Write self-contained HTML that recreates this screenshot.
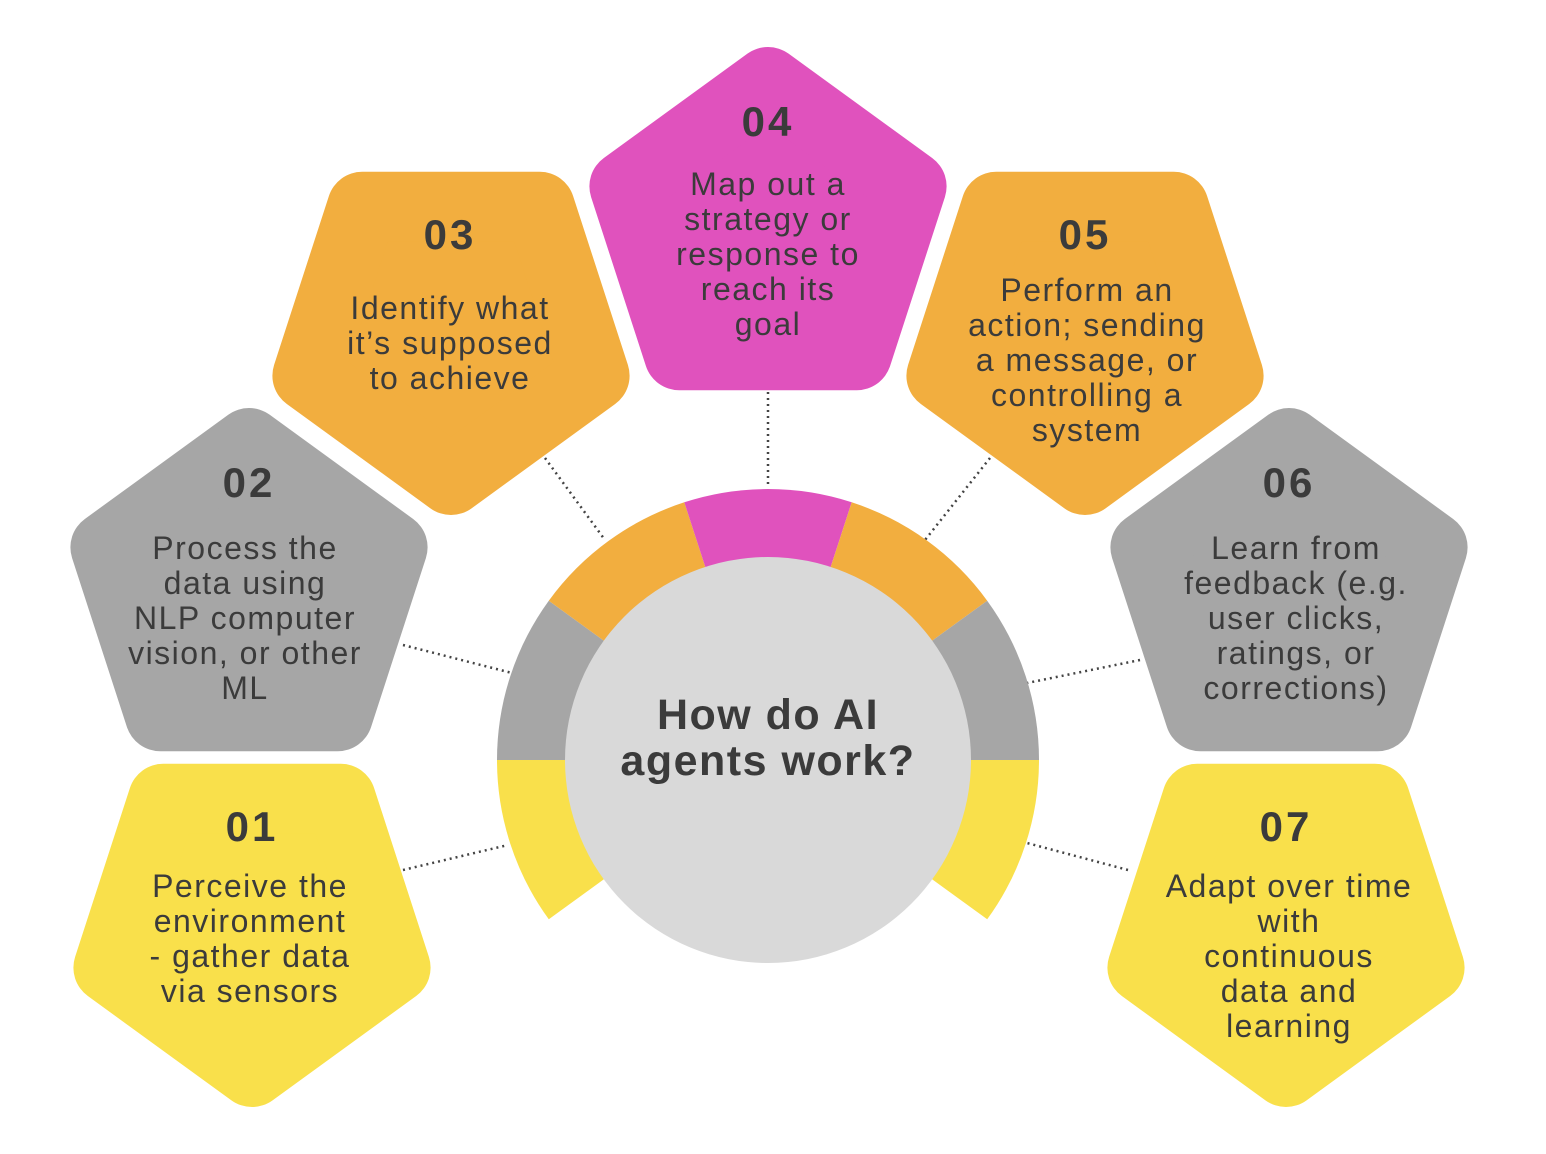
<!DOCTYPE html>
<html><head><meta charset="utf-8"><style>
html,body{margin:0;padding:0;background:#fff}
svg{display:block}
text{font-family:"Liberation Sans",sans-serif;fill:#3b3b3b;text-anchor:middle}
.n{font-size:42px;font-weight:bold;letter-spacing:3px}
.t{font-size:32px;letter-spacing:1.5px}
.h{font-size:43px;font-weight:bold;letter-spacing:1.5px}
</style></head><body>
<svg width="1546" height="1154" viewBox="0 0 1546 1154">
<defs>
<polygon id="p" points="0,-151 143.6,-46.7 88.8,122.2 -88.8,122.2 -143.6,-46.7"/>
</defs>
<g stroke="#444" stroke-width="2.5" stroke-dasharray="2 4" fill="none">
<line x1="768" y1="392" x2="768" y2="488"/>
<line x1="545" y1="458" x2="605" y2="540"/>
<line x1="990" y1="458" x2="925" y2="540"/>
<line x1="403" y1="645" x2="512" y2="673"/>
<line x1="1140" y1="660" x2="1027" y2="683"/>
<line x1="403" y1="870" x2="508" y2="845"/>
<line x1="1128" y1="870" x2="1027" y2="843"/>
</g>
<g stroke-width="70" stroke-linejoin="round">
<use href="#p" fill="#E052BD" stroke="#E052BD" transform="translate(768,233)"/>
<use href="#p" fill="#F2AE3F" stroke="#F2AE3F" transform="translate(451,329) scale(1,-1)"/>
<use href="#p" fill="#F2AE3F" stroke="#F2AE3F" transform="translate(1085,329) scale(1,-1)"/>
<use href="#p" fill="#A6A6A6" stroke="#A6A6A6" transform="translate(249,594)"/>
<use href="#p" fill="#A6A6A6" stroke="#A6A6A6" transform="translate(1289,594)"/>
<use href="#p" fill="#F9E04B" stroke="#F9E04B" transform="translate(252,921) scale(1,-1)"/>
<use href="#p" fill="#F9E04B" stroke="#F9E04B" transform="translate(1286,921) scale(1,-1)"/>
</g>
<path fill="#F9E04B" d="M768,760 L548.8,919.3 A271,271 0 0 1 497,760 Z"/>
<path fill="#A6A6A6" d="M768,760 L497,760 A271,271 0 0 1 548.8,600.7 Z"/>
<path fill="#F2AE3F" d="M768,760 L548.8,600.7 A271,271 0 0 1 684.3,502.3 Z"/>
<path fill="#E052BD" d="M768,760 L684.3,502.3 A271,271 0 0 1 851.7,502.3 Z"/>
<path fill="#F2AE3F" d="M768,760 L851.7,502.3 A271,271 0 0 1 987.2,600.7 Z"/>
<path fill="#A6A6A6" d="M768,760 L987.2,600.7 A271,271 0 0 1 1039,760 Z"/>
<path fill="#F9E04B" d="M768,760 L1039,760 A271,271 0 0 1 987.2,919.3 Z"/>
<circle cx="768" cy="760" r="203" fill="#D9D9D9"/>
<text class="h" x="768" y="729">How do AI</text>
<text class="h" x="768" y="775">agents work?</text>

<text class="n" x="768" y="136">04</text>
<text class="t" x="768" y="195">Map out a</text>
<text class="t" x="768" y="230">strategy or</text>
<text class="t" x="768" y="265">response to</text>
<text class="t" x="768" y="300">reach its</text>
<text class="t" x="768" y="335">goal</text>

<text class="n" x="450" y="249">03</text>
<text class="t" x="450" y="319">Identify what</text>
<text class="t" x="450" y="354">it’s supposed</text>
<text class="t" x="450" y="389">to achieve</text>

<text class="n" x="1085" y="249">05</text>
<text class="t" x="1087" y="301">Perform an</text>
<text class="t" x="1087" y="336">action;  sending</text>
<text class="t" x="1087" y="371">a message, or</text>
<text class="t" x="1087" y="406">controlling a</text>
<text class="t" x="1087" y="441">system</text>

<text class="n" x="249" y="497">02</text>
<text class="t" x="245" y="559">Process the</text>
<text class="t" x="245" y="594">data using</text>
<text class="t" x="245" y="629">NLP computer</text>
<text class="t" x="245" y="664">vision, or other</text>
<text class="t" x="245" y="699">ML</text>

<text class="n" x="1289" y="497">06</text>
<text class="t" x="1296" y="559">Learn from</text>
<text class="t" x="1296" y="594">feedback (e.g.</text>
<text class="t" x="1296" y="629">user clicks,</text>
<text class="t" x="1296" y="664">ratings, or</text>
<text class="t" x="1296" y="699">corrections)</text>

<text class="n" x="252" y="841">01</text>
<text class="t" x="250" y="897">Perceive the</text>
<text class="t" x="250" y="932">environment</text>
<text class="t" x="250" y="967">- gather data</text>
<text class="t" x="250" y="1002">via sensors</text>

<text class="n" x="1286" y="841">07</text>
<text class="t" x="1289" y="897">Adapt over time</text>
<text class="t" x="1289" y="932">with</text>
<text class="t" x="1289" y="967">continuous</text>
<text class="t" x="1289" y="1002">data and</text>
<text class="t" x="1289" y="1037">learning</text>
</svg>
</body></html>
